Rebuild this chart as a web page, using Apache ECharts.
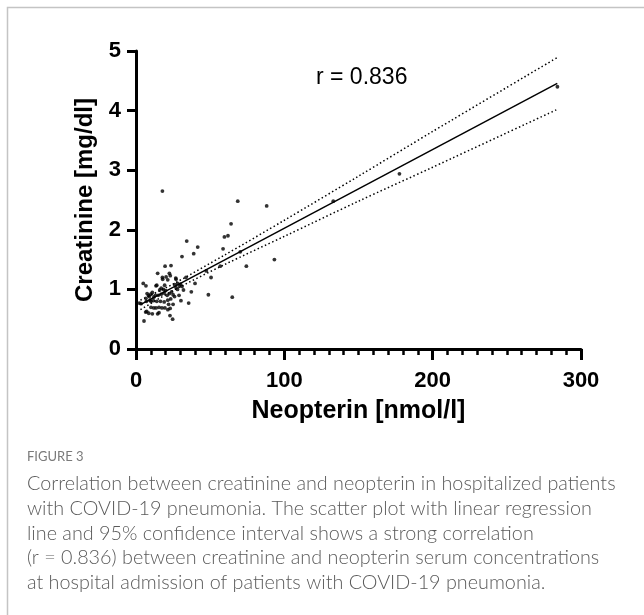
<!DOCTYPE html>
<html>
<head>
<meta charset="utf-8">
<script src="https://cdn.jsdelivr.net/npm/echarts@6/dist/echarts.min.js"></script>
<style>
  html, body { margin: 0; padding: 0; background: #fff; }
  #chart { width: 644px; height: 615px; }
</style>
</head>
<body>
<div id="chart"></div>
<script>
// patient values (neopterin nmol/l, creatinine mg/dl)
const neopterin = [
  17.8, 68.6, 88.1, 64.1, 59.6, 62.0, 34.2, 41.6, 58.7, 38.9, 31.0, 70.3, 93.3, 74.4, 56.8, 47.4, 50.6,
  133, 177.6, 284.1, 48.8, 64.9, 37.3, 35.5, 30.3,
  19.6, 23.6, 14.6, 22.5, 23.1, 33.7, 17.8, 21.4, 26.8, 20.3,
  4.9, 6.7, 39.8, 13.5, 19.3,
  26, 28, 29.5, 31, 27, 30,
  17, 18.5, 20, 16,
  10, 9, 12, 28, 32, 29, 26,
  15, 17, 19, 21, 22.5, 24, 25,
  6.7, 3.4, 2.2, 7.5, 8.5, 11, 13,
  23.4, 21.4, 11.7, 10, 14, 7, 9.5, 16.5, 19,
  22, 25,
  10.1, 12, 13.5, 15.5, 17.5, 19.5, 21.5, 23,
  7.2, 8.6, 11, 14.6, 15.5, 6.5,
  22.9, 24.7, 5.4,
  27, 18, 14
]
const creatinine = [
  2.65, 2.48, 2.40, 2.10, 1.88, 1.90, 1.81, 1.71, 1.68, 1.60, 1.55, 1.63, 1.50, 1.39, 1.39, 1.31, 1.20,
  2.48, 2.94, 4.40, 0.91, 0.87, 0.96, 0.77, 0.81,
  1.39, 1.40, 1.27, 1.27, 1.23, 1.20, 1.20, 1.16, 1.19, 1.21,
  1.10, 1.06, 1.10, 1.06, 1.07,
  1.08, 1.10, 1.06, 1.05, 1.03, 1.09,
  1.02, 1.00, 0.98, 0.99,
  0.92, 0.88, 0.87, 1.00, 0.99, 0.90, 0.88,
  0.90, 0.92, 0.94, 0.90, 0.93, 0.96, 0.91,
  0.85, 0.76, 0.77, 0.93, 0.90, 0.95, 0.90,
  0.84, 0.82, 0.81, 0.80, 0.80, 0.80, 0.82, 0.80, 0.79,
  0.75, 0.75,
  0.70, 0.69, 0.69, 0.70, 0.69, 0.69, 0.66, 0.68,
  0.63, 0.60, 0.59, 0.59, 0.61, 0.62,
  0.56, 0.50, 0.47,
  1.17, 1.17, 1.07
]

// regression line and 95% CI
const fitX = [3, 284]
const fitY = [0.744, 4.458]
const ciX = [3, 25, 60, 100, 150, 200, 284]
const ciUpper = [0.82, 1.09, 1.58, 2.16, 2.90, 3.65, 4.89]
const ciLower = [0.66, 0.98, 1.42, 1.89, 2.48, 3.05, 4.02]

const xTicks = [0, 100, 200, 300]
const yTicks = [0, 1, 2, 3, 4, 5]

const captionTitle = 'FIGURE 3'
const captionLines = [
  'Correlation between creatinine and neopterin in hospitalized patients',
  'with COVID-19 pneumonia. The scatter plot with linear regression',
  'line and 95% confidence interval shows a strong correlation',
  '(r = 0.836) between creatinine and neopterin serum concentrations',
  'at hospital admission of patients with COVID-19 pneumonia.'
]

const pair = (xs, ys) => xs.map((x, i) => [x, ys[i]])

let myChart = echarts.init(document.getElementById('chart'))

let graphics = [
  {
    type: 'rect',
    shape: {x: 7.5, y: 7.5, width: 800, height: 800},
    style: {fill: 'none', stroke: '#c4c4c4', lineWidth: 1.5},
    silent: true
  },
  {
    type: 'text',
    left: 316,
    top: 66,
    style: {text: 'r = 0.836', font: '23px "Liberation Sans", Arial', fill: '#000'}
  },
  {
    type: 'text',
    left: 27,
    top: 450,
    style: {text: captionTitle, font: '13px Lato, "Open Sans"', fill: '#7a7a7a'}
  }
]
captionLines.forEach((line, i) => {
  graphics.push({
    type: 'text',
    left: 27,
    top: 474 + i * 24.6,
    style: {text: line, font: '300 19.8px Lato, "Open Sans"', fill: '#5a5a5a'}
  })
})

const axisFont = {fontFamily: '"Liberation Sans", Arial', fontWeight: 'bold', color: '#000'}

myChart.setOption({
  animation: false,
  backgroundColor: '#fff',
  grid: {left: 136, top: 51, right: 63, bottom: 266, containLabel: false},
  graphic: graphics,
  xAxis: {
    type: 'value',
    min: 0,
    max: 300,
    interval: 100,
    name: 'Neopterin [nmol/l]',
    nameLocation: 'middle',
    nameGap: 50,
    nameTextStyle: Object.assign({fontSize: 25}, axisFont),
    axisLine: {show: true, onZero: false, lineStyle: {color: '#000', width: 3}},
    axisTick: {show: true, length: 11, lineStyle: {color: '#000', width: 3}},
    minorTick: {show: true, splitNumber: 10, length: 6, lineStyle: {color: '#000', width: 2.5}},
    axisLabel: Object.assign({fontSize: 22, margin: 21,
      formatter: v => xTicks.includes(v) ? String(v) : ''}, axisFont),
    splitLine: {show: false}
  },
  yAxis: {
    type: 'value',
    min: 0,
    max: 5,
    interval: 1,
    name: 'Creatinine [mg/dl]',
    nameLocation: 'middle',
    nameGap: 37,
    nameTextStyle: Object.assign({fontSize: 24}, axisFont),
    axisLine: {show: true, onZero: false, lineStyle: {color: '#000', width: 3}},
    axisTick: {show: true, length: 9, lineStyle: {color: '#000', width: 3}},
    axisLabel: Object.assign({fontSize: 22, margin: 15,
      formatter: v => yTicks.includes(v) ? String(v) : ''}, axisFont),
    splitLine: {show: false}
  },
  series: [
    {
      name: 'patients',
      type: 'scatter',
      symbolSize: 3.8,
      itemStyle: {color: '#000'},
      data: pair(neopterin, creatinine),
      z: 3
    },
    {
      name: 'regression',
      type: 'line',
      symbol: 'none',
      lineStyle: {color: '#000', width: 1.5},
      data: pair(fitX, fitY),
      z: 4
    },
    {
      name: 'upper 95% CI',
      type: 'line',
      symbol: 'none',
      smooth: 0.3,
      lineStyle: {color: '#000', width: 1.5, type: [1.5, 2.5]},
      data: pair(ciX, ciUpper)
    },
    {
      name: 'lower 95% CI',
      type: 'line',
      symbol: 'none',
      smooth: 0.3,
      lineStyle: {color: '#000', width: 1.5, type: [1.5, 2.5]},
      data: pair(ciX, ciLower)
    }
  ]
})
</script>
</body>
</html>
